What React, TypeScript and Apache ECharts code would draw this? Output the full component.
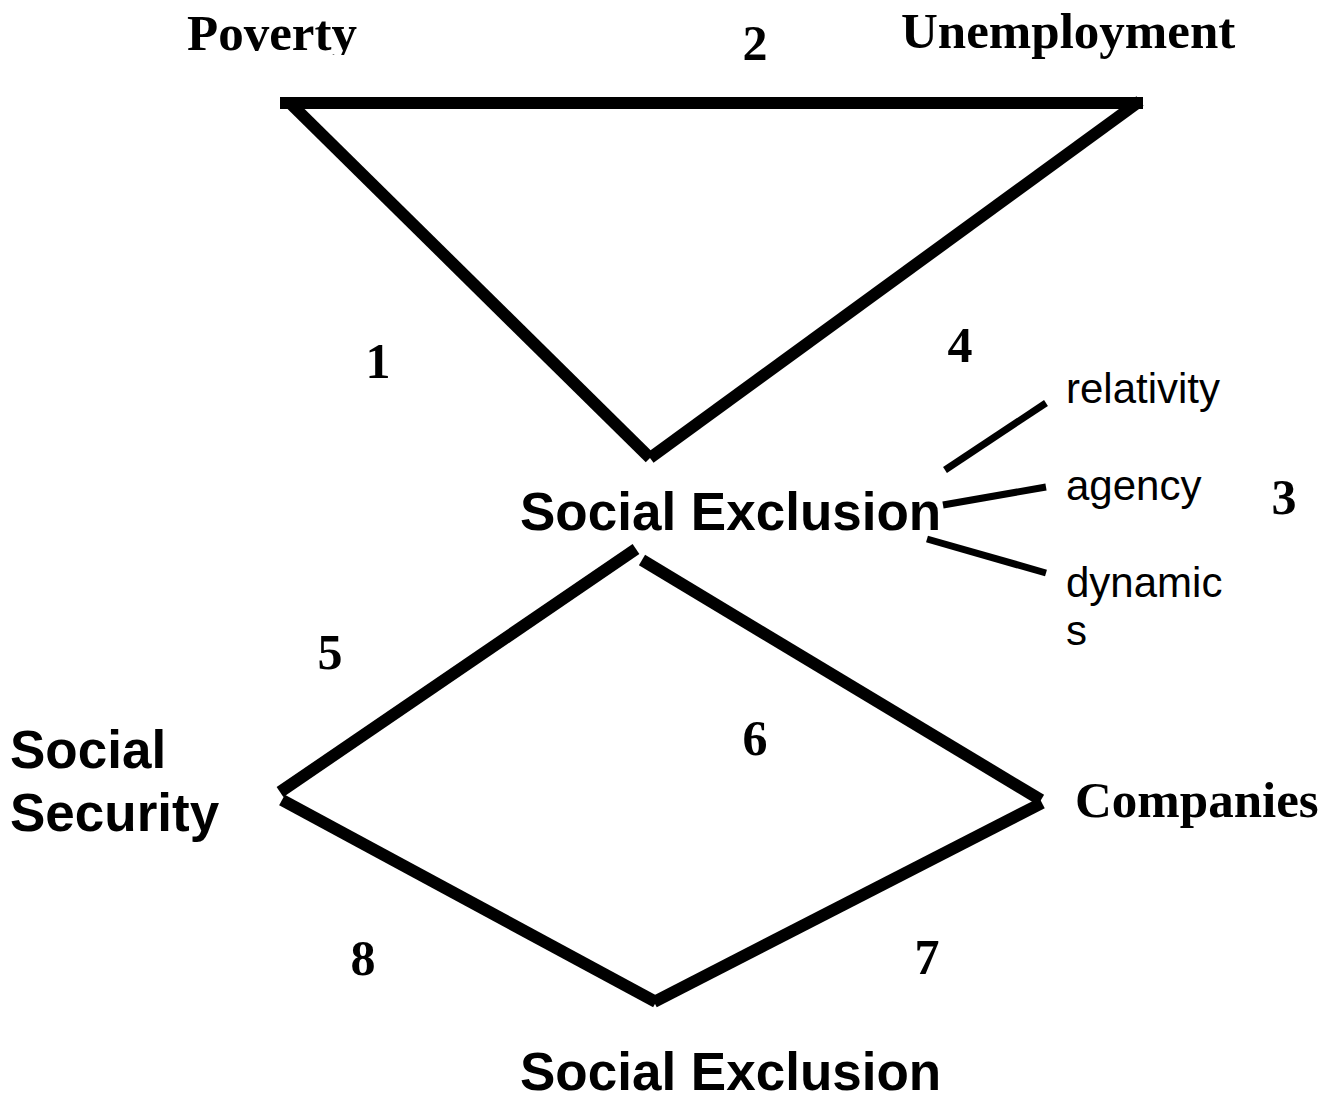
import React, { useEffect, useRef } from "react";
import * as echarts from "echarts";

// Thick connector segments: [x1, y1, x2, y2] in diagram units
const thickSegments: number[][] = [
  [280, 103, 1143, 103],
  [291, 104, 650, 458],
  [1140, 101, 650, 458],
  [636, 549, 280, 792],
  [642, 560, 1041, 800],
  [282, 800, 656, 1002],
  [1042, 803, 654, 1002],
];

// Thin connector segments (Social Exclusion -> its dimensions)
const thinSegments: number[][] = [
  [945, 470, 1046, 403],
  [943, 505, 1046, 487],
  [927, 539, 1046, 573],
];

// Serif bold labels: [text, x, y]
const serifLabels: [string, number, number][] = [
  ["Poverty", 187, 33],
  ["Unemployment", 901, 31],
  ["Companies", 1075, 800],
];

// Numbered markers (serif bold, centered): [text, x, y]
const numberLabels: [string, number, number][] = [
  ["1", 378, 361],
  ["2", 755, 43],
  ["3", 1284, 497],
  ["4", 960, 345],
  ["5", 330, 652],
  ["6", 755, 738],
  ["7", 927, 957],
  ["8", 363, 958],
];

// Sans bold labels: [text, x, y]
const sansBoldLabels: [string, number, number][] = [
  ["Social Exclusion", 520, 511],
  ["Social", 10, 749],
  ["Security", 10, 812],
  ["Social Exclusion", 520, 1071],
];

// Sans regular labels: [text, x, y]
const sansLabels: [string, number, number][] = [
  ["relativity", 1066, 388],
  ["agency", 1066, 485],
  ["dynamic", 1066, 582],
  ["s", 1066, 630],
];

const W = 1338;
const H = 1095;

function labelSeries(
  items: [string, number, number][],
  font: { family: string; size: number; weight: string; lineHeight: number },
  align: "left" | "center"
) {
  return {
    type: "scatter",
    symbolSize: 0,
    silent: true,
    itemStyle: { opacity: 1 },
    data: items.map(([t, x, y]) => ({ name: t, value: [x, y] })),
    label: {
      show: true,
      position: [0, 0],
      align,
      verticalAlign: "middle",
      formatter: (p: any) => p.name,
      color: "#000",
      opacity: 1,
      fontFamily: font.family,
      fontSize: font.size,
      fontWeight: font.weight,
      lineHeight: font.lineHeight,
    },
    z: 5,
  };
}

export default function App() {
  const ref = useRef<HTMLDivElement>(null);
  useEffect(() => {
    if (!ref.current) return;
    const chart = echarts.init(ref.current, undefined, { renderer: "svg" });
    const serif = "'Liberation Serif', 'Times New Roman', serif";
    const sans = "'Liberation Sans', Arial, sans-serif";
    chart.setOption({
      animation: false,
      backgroundColor: "#fff",
      grid: { left: 0, right: 0, top: 0, bottom: 0 },
      xAxis: { type: "value", min: 0, max: W, show: false },
      yAxis: { type: "value", min: 0, max: H, inverse: true, show: false },
      graphic: [
        {
          type: "rect",
          shape: { x: 180, y: 55, width: 180, height: 12 },
          style: { fill: "#fff" },
          z: 100,
          silent: true,
        },
      ],
      series: [
        {
          type: "lines",
          coordinateSystem: "cartesian2d",
          silent: true,
          data: thickSegments.map((s) => ({ coords: [[s[0], s[1]], [s[2], s[3]]] })),
          lineStyle: { color: "#000", width: 12, cap: "butt", opacity: 1 },
          z: 2,
        },
        {
          type: "lines",
          coordinateSystem: "cartesian2d",
          silent: true,
          data: thinSegments.map((s) => ({ coords: [[s[0], s[1]], [s[2], s[3]]] })),
          lineStyle: { color: "#000", width: 7, cap: "butt", opacity: 1 },
          z: 2,
        },
        labelSeries(serifLabels, { family: serif, size: 51, weight: "bold", lineHeight: 52 }, "left"),
        labelSeries(numberLabels, { family: serif, size: 50, weight: "bold", lineHeight: 50 }, "center"),
        labelSeries(sansBoldLabels, { family: sans, size: 53, weight: "bold", lineHeight: 42 }, "left"),
        labelSeries(sansLabels, { family: sans, size: 42, weight: "normal", lineHeight: 42 }, "left"),
      ],
    });
    return () => chart.dispose();
  }, []);
  return (
    <div
      ref={ref}
      style={{ position: "absolute", left: 0, top: 0, width: W, height: H, background: "#fff" }}
    />
  );
}
